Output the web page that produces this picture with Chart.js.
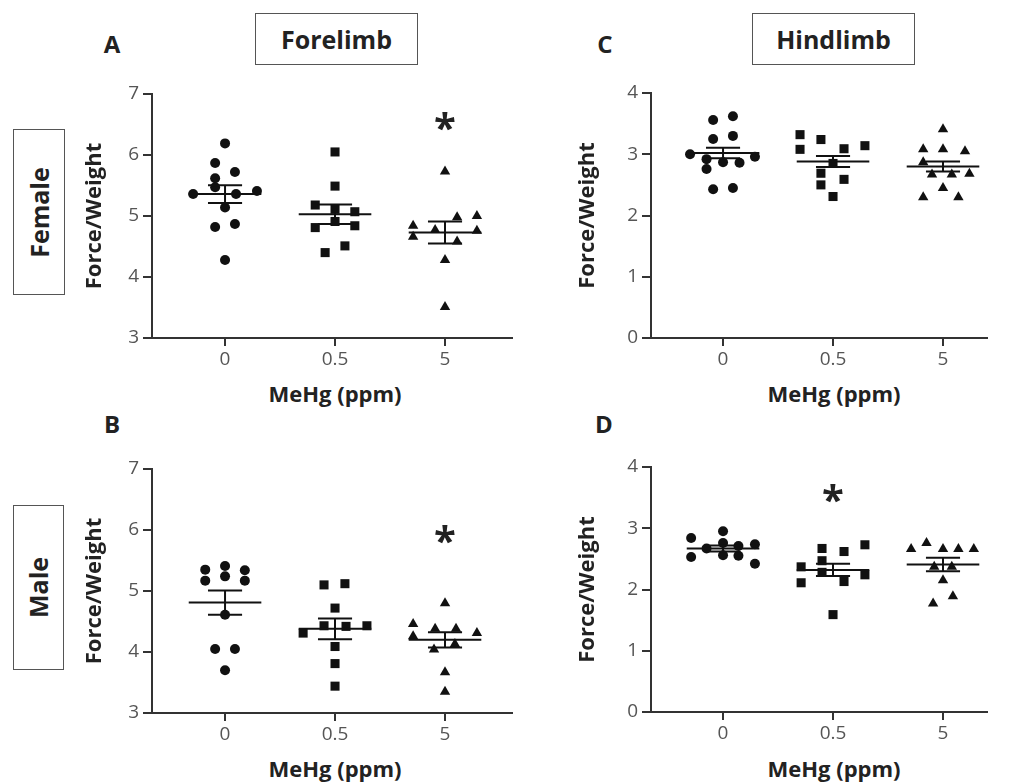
<!DOCTYPE html>
<html><head><meta charset="utf-8">
<script src="https://cdn.jsdelivr.net/npm/chart.js@4.4.1/dist/chart.umd.min.js"></script>
<style>
body{margin:0;background:#fff;width:1010px;height:783px;position:relative;overflow:hidden;font-family:"Open Sans",sans-serif;}
canvas{position:absolute;}
.ctr{position:absolute;transform:translate(-50%,-50%);font-weight:bold;color:#222;white-space:nowrap;line-height:1;}
.box{position:absolute;border:1.5px solid #555;box-sizing:border-box;display:flex;align-items:center;justify-content:center;font-weight:bold;color:#222;font-size:25px;background:#fff;}
.box span{display:block;white-space:nowrap;line-height:1;}
.vert span{transform:rotate(-90deg);}
</style></head><body>

<div class="ctr" style="left:112px;top:44px;font-size:24px">A</div>
<div class="ctr" style="left:605px;top:44px;font-size:24px">C</div>
<div class="ctr" style="left:112px;top:424px;font-size:24px">B</div>
<div class="ctr" style="left:604px;top:424px;font-size:24px">D</div>
<div class="box" style="left:255px;top:13px;width:163px;height:52px"><span>Forelimb</span></div>
<div class="box" style="left:752px;top:13px;width:163px;height:52px"><span>Hindlimb</span></div>
<div class="box vert" style="left:13px;top:129px;width:52px;height:166px"><span>Female</span></div>
<div class="box vert" style="left:13px;top:505px;width:51px;height:165px"><span>Male</span></div>
<div class="ctr" style="left:335px;top:393px;font-size:22px">MeHg (ppm)</div>
<div class="ctr" style="left:834px;top:393px;font-size:22px">MeHg (ppm)</div>
<div class="ctr" style="left:335px;top:768px;font-size:22px">MeHg (ppm)</div>
<div class="ctr" style="left:834px;top:768px;font-size:22px">MeHg (ppm)</div>

<canvas id="cA" width="460" height="300" style="left:70px;top:74px"></canvas>
<canvas id="cC" width="436" height="301" style="left:569px;top:73px"></canvas>
<canvas id="cB" width="460" height="300" style="left:70px;top:449px"></canvas>
<canvas id="cD" width="436" height="301" style="left:569px;top:447px"></canvas>

<script>
// ---------- DATA ----------
const categories = ['0', '0.5', '5'];
const yTicksFore = [3, 4, 5, 6, 7];
const yTicksHind = [0, 1, 2, 3, 4];

// A: Female forelimb
const femaleFore0 = [6.19, 5.87, 5.72, 5.62, 5.47, 5.36, 5.36, 5.41, 5.14, 4.82, 4.87, 4.28];
const femaleFore0Jit = [0, -0.09, 0.09, -0.09, -0.09, -0.29, 0.1, 0.29, 0, -0.09, 0.09, 0];
const femaleFore1 = [6.05, 5.49, 5.18, 5.11, 5.07, 4.91, 4.81, 4.84, 4.40, 4.51];
const femaleFore1Jit = [0, 0, -0.18, 0, 0.18, 0, -0.18, 0.18, -0.09, 0.09];
const femaleFore2 = [5.73, 4.98, 5.00, 4.84, 4.77, 4.66, 4.58, 4.76, 4.28, 3.51];
const femaleFore2Jit = [0, 0.11, 0.29, -0.29, -0.09, -0.29, 0.11, 0.29, 0, 0];
const femaleForeMean = [5.36, 5.03, 4.73];
const femaleForeSem = [0.145, 0.16, 0.18];
const femaleForeStars = [{g: 2, v: 6.55}];

// B: Male forelimb
const maleFore0 = [5.35, 5.41, 5.34, 5.17, 5.24, 5.17, 4.61, 4.05, 4.05, 3.70];
const maleFore0Jit = [-0.18, 0, 0.18, -0.18, 0, 0.18, 0, -0.09, 0.09, 0];
const maleFore1 = [5.10, 5.12, 4.72, 4.43, 4.42, 4.43, 4.31, 4.09, 3.81, 3.44];
const maleFore1Jit = [-0.1, 0.09, 0, -0.1, 0.1, 0.29, -0.29, 0, 0, 0];
const maleFore2 = [4.80, 4.46, 4.38, 4.38, 4.26, 4.31, 4.13, 4.04, 3.67, 3.35];
const maleFore2Jit = [0, -0.29, -0.09, 0.1, -0.29, 0.29, 0.09, -0.1, 0, 0];
const maleForeMean = [4.81, 4.38, 4.20];
const maleForeSem = [0.20, 0.17, 0.125];
const maleForeStars = [{g: 2, v: 5.92}];

// C: Female hindlimb
const femaleHind0 = [3.56, 3.62, 3.25, 3.30, 3.00, 2.96, 2.92, 2.87, 2.86, 2.76, 2.43, 2.45];
const femaleHind0Jit = [-0.09, 0.09, -0.09, 0.09, -0.30, 0.29, -0.15, 0, 0.15, -0.15, -0.09, 0.09];
const femaleHind1 = [3.32, 3.24, 3.08, 3.09, 3.14, 2.85, 2.69, 2.59, 2.50, 2.31];
const femaleHind1Jit = [-0.30, -0.11, -0.30, 0.10, 0.29, 0, -0.11, 0.10, -0.11, 0];
const femaleHind2 = [3.41, 3.08, 3.08, 3.05, 2.87, 2.67, 2.67, 2.68, 2.45, 2.30, 2.30];
const femaleHind2Jit = [0, -0.18, 0, 0.2, -0.18, -0.1, 0.08, 0.24, 0, -0.18, 0.14];
const femaleHindMean = [3.02, 2.88, 2.80];
const femaleHindSem = [0.085, 0.09, 0.08];
const femaleHindStars = [];

// D: Male hindlimb
const maleHind0 = [2.95, 2.84, 2.53, 2.67, 2.76, 2.56, 2.71, 2.55, 2.74, 2.42];
const maleHind0Jit = [0, -0.29, -0.29, -0.15, 0, 0, 0.14, 0.14, 0.29, 0.29];
const maleHind1 = [2.67, 2.62, 2.73, 2.37, 2.47, 2.28, 2.24, 2.13, 2.11, 1.59];
const maleHind1Jit = [-0.1, 0.1, 0.29, -0.29, -0.1, -0.1, 0.29, 0.1, -0.29, 0];
const maleHind2 = [2.66, 2.76, 2.66, 2.66, 2.66, 2.37, 2.37, 2.15, 1.89, 1.77];
const maleHind2Jit = [-0.29, -0.15, 0, 0.14, 0.28, -0.08, 0.08, 0, 0.09, -0.09];
const maleHindMean = [2.67, 2.32, 2.41];
const maleHindSem = [0.05, 0.10, 0.11];
const maleHindStars = [{g: 1, v: 3.57}];

// ---------- CHARTS ----------
const FONT = '"Open Sans", sans-serif';
const INK = '#111';
const styles = ['circle', 'rect', 'triangle'];
const radii = [5, 6.4, 6];
const MEAN_HALF = 0.33, CAP_HALF = 0.155;

const starPlugin = {
  id: 'stars',
  afterDatasetsDraw(chart, args, opts) {
    const {ctx, scales} = chart;
    (opts.items || []).forEach(it => {
      ctx.save();
      ctx.font = 'bold 40px ' + FONT;
      ctx.fillStyle = '#222';
      ctx.textAlign = 'center';
      ctx.textBaseline = 'alphabetic';
      const m = ctx.measureText('*');
      const px = scales.x.getPixelForValue(it.g);
      const py = scales.y.getPixelForValue(it.v) + (m.actualBoundingBoxAscent - m.actualBoundingBoxDescent) / 2;
      ctx.fillText('*', px, py);
      ctx.restore();
    });
  }
};

function seg(a, b) {
  return {type: 'scatter', data: [a, b], showLine: true, borderColor: INK, borderWidth: 2,
          pointRadius: 0, pointHoverRadius: 0, fill: false};
}

function makePanel(id, groups, jits, means, sems, yTicks, xMin, xMax, titlePad, stars) {
  const datasets = [];
  means.forEach((m, g) => {
    const s = sems[g];
    datasets.push(seg({x: g - MEAN_HALF, y: m}, {x: g + MEAN_HALF, y: m}));
    datasets.push(seg({x: g, y: m - s}, {x: g, y: m + s}));
    datasets.push(seg({x: g - CAP_HALF, y: m + s}, {x: g + CAP_HALF, y: m + s}));
    datasets.push(seg({x: g - CAP_HALF, y: m - s}, {x: g + CAP_HALF, y: m - s}));
  });
  groups.forEach((vals, g) => {
    datasets.push({
      type: 'scatter',
      data: vals.map((v, i) => ({x: g + jits[g][i], y: v})),
      pointStyle: styles[g], pointRadius: radii[g], pointHoverRadius: radii[g],
      backgroundColor: INK, borderColor: INK, borderWidth: 0, showLine: false
    });
  });
  new Chart(document.getElementById(id), {
    type: 'scatter',
    data: {datasets},
    plugins: [starPlugin],
    options: {
      responsive: false, animation: false, devicePixelRatio: 1,
      layout: {padding: {left: 0, right: 18, top: 20, bottom: 0}},
      plugins: {legend: {display: false}, tooltip: {enabled: false}, stars: {items: stars}},
      scales: {
        x: {
          type: 'linear', min: xMin, max: xMax,
          afterBuildTicks: s => { s.ticks = categories.map((c, i) => ({value: i})); },
          afterFit: s => { s.height = 36; },
          ticks: {callback: v => categories[v], font: {family: FONT, size: 19}, color: '#555',
                  padding: 2, autoSkip: false, maxRotation: 0},
          grid: {drawOnChartArea: false, drawTicks: true, tickLength: 8, color: '#333', lineWidth: 2},
          border: {display: true, color: '#333', width: 2}
        },
        y: {
          type: 'linear', min: yTicks[0], max: yTicks[yTicks.length - 1],
          afterBuildTicks: s => { s.ticks = yTicks.map(v => ({value: v})); },
          afterFit: s => { s.width = 82; },
          ticks: {callback: v => String(v), font: {family: FONT, size: 19}, color: '#555', padding: 4},
          grid: {drawOnChartArea: false, drawTicks: true, tickLength: 9, color: '#333', lineWidth: 2},
          border: {display: true, color: '#333', width: 2},
          title: {display: true, text: 'Force/Weight', color: '#222',
                  font: {family: FONT, size: 22, weight: 'bold'}, padding: {top: titlePad, bottom: 0}}
        }
      }
    }
  });
}

makePanel('cA', [femaleFore0, femaleFore1, femaleFore2], [femaleFore0Jit, femaleFore1Jit, femaleFore2Jit],
  femaleForeMean, femaleForeSem, yTicksFore, -0.664, 2.609, 12, femaleForeStars);
makePanel('cB', [maleFore0, maleFore1, maleFore2], [maleFore0Jit, maleFore1Jit, maleFore2Jit],
  maleForeMean, maleForeSem, yTicksFore, -0.664, 2.609, 12, maleForeStars);
makePanel('cC', [femaleHind0, femaleHind1, femaleHind2], [femaleHind0Jit, femaleHind1Jit, femaleHind2Jit],
  femaleHindMean, femaleHindSem, yTicksHind, -0.655, 2.4, 6, femaleHindStars);
makePanel('cD', [maleHind0, maleHind1, maleHind2], [maleHind0Jit, maleHind1Jit, maleHind2Jit],
  maleHindMean, maleHindSem, yTicksHind, -0.655, 2.4, 6, maleHindStars);
</script>
</body></html>
